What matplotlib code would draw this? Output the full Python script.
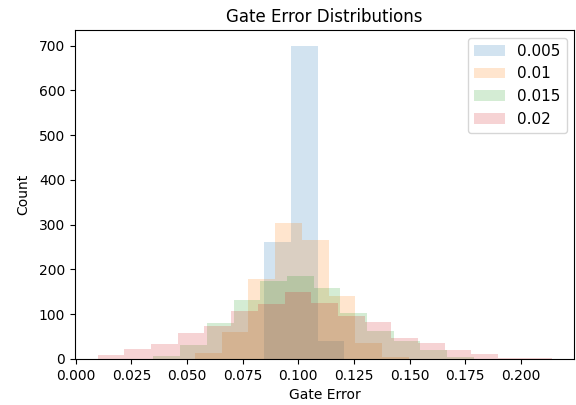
import matplotlib
matplotlib.use("Agg")
import matplotlib.pyplot as plt

# bin edges and counts, one series per noise level
labels = ["0.005", "0.01", "0.015", "0.02"]

edges_005 = [0.0847, 0.0967, 0.1087, 0.1207]
counts_005 = [260, 700, 40]

edges_01 = [0.0536, 0.0656, 0.0776, 0.0896, 0.1016, 0.1136, 0.1256, 0.1376, 0.1496]
counts_01 = [13, 59, 179, 303, 266, 141, 36, 5]

edges_015 = [0.0349, 0.0469, 0.0589, 0.0709, 0.0829, 0.0949, 0.1069,
             0.1189, 0.1309, 0.1429, 0.1549, 0.1669, 0.1789]
counts_015 = [7, 31, 80, 132, 175, 186, 159, 102, 63, 39, 20, 3]

edges_02 = [0.0098, 0.0218, 0.0338, 0.0458, 0.0578, 0.0698, 0.0818, 0.0938, 0.1058,
            0.1178, 0.1298, 0.1418, 0.1538, 0.1658, 0.1778, 0.1898, 0.2018, 0.2138]
counts_02 = [9, 22, 34, 58, 74, 107, 123, 149, 125, 96, 83, 46, 35, 19, 10, 1, 1]

series = [(edges_005, counts_005), (edges_01, counts_01),
          (edges_015, counts_015), (edges_02, counts_02)]

fig, ax = plt.subplots(figsize=(5.76, 4.05), dpi=100)
fig.subplots_adjust(left=0.13, right=0.997, top=0.926, bottom=0.114)

for (edges, counts), lab in zip(series, labels):
    ax.hist(edges[:-1], bins=edges, weights=counts, alpha=0.2, label=lab)

ax.set_title("Gate Error Distributions", fontsize=12)
ax.set_xlabel("Gate Error")
ax.set_ylabel("Count", labelpad=6)
ax.legend(loc="upper right", fontsize=11)

fig.savefig("out.png", dpi=100)
